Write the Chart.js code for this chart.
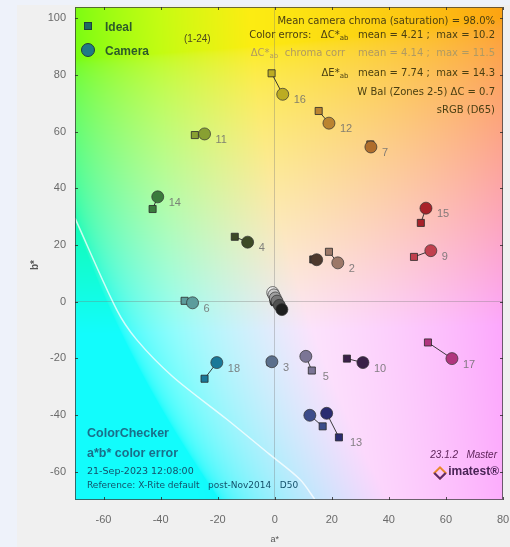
<!DOCTYPE html>
<html>
<head>
<meta charset="utf-8">
<script src="https://cdn.jsdelivr.net/npm/chart.js@4.4.1/dist/chart.umd.min.js"></script>
<style>
  html, body { margin: 0; padding: 0; background: #eef2fa; }
  #wrap { width: 510px; height: 547px; }
</style>
</head>
<body>
<div id="wrap"><canvas id="ccChart" width="510" height="547"></canvas></div>
<script>
// ColorChecker patches 1-24, a*/b* of ideal (reference) and camera values
const patchNums = [1, 2, 3, 4, 5, 6, 7, 8, 9, 10, 11, 12, 13, 14, 15, 16, 17, 18, 19, 20, 21, 22, 23, 24];
const idealA = [13.5, 19.0, -1.5, -14.0, 13.0, -31.6, 33.5, 16.8, 48.8, 25.3, -28.0, 15.4, 22.5, -42.8, 51.2, -1.1, 53.7, -24.6, -0.5, -0.4, -0.3, -0.2, 0.0, 0.1];
const idealB = [14.9, 17.6, -21.4, 22.9, -24.3, 0.3, 55.5, -44.0, 15.8, -20.1, 58.8, 67.3, -47.9, 32.7, 27.8, 80.6, -14.4, -27.2, 1.5, 0.8, 0.4, 0.2, 0.0, -0.2];
const cameraA = [14.7, 22.1, -1.0, -9.5, 10.9, -28.8, 33.7, 12.3, 54.7, 30.9, -24.6, 19.0, 18.2, -41.0, 53.0, 2.8, 62.1, -20.3, -0.7, -0.3, 0.2, 0.8, 1.6, 2.5];
const cameraB = [14.8, 13.7, -21.2, 21.0, -19.3, -0.4, 54.6, -40.1, 18.0, -21.5, 59.2, 63.0, -39.4, 37.0, 33.0, 73.2, -20.1, -21.5, 3.2, 2.4, 1.3, 0.2, -1.3, -2.8];
const labeledPatches = [2, 3, 4, 5, 6, 7, 9, 10, 11, 12, 13, 14, 15, 16, 17, 18];
const labelOnIdeal = [5, 13];
// gamut boundary curve (lower left)
const gamutA = [-70, -55.4, -48.4, -35.8, -16.8, -1.8, 8.8, 14];
const gamutB = [29.5, -2.8, -13.4, -26.4, -41.5, -53.9, -62.7, -69.7];
const xTicks = [-60, -40, -20, 0, 20, 40, 60, 80];
const yTicks = [-60, -40, -20, 0, 20, 40, 60, 80, 100];

const patchColors = ["#4e3a2e", "#9c7868", "#5b6f8c", "#3d4a26", "#7b7595", "#5c9c9c", "#b06e2c", "#3c4c8a",
  "#c0404e", "#3a2048", "#88a032", "#bb8430", "#2a2c70", "#3a7a3c", "#a8222a", "#bcac22", "#b0357e", "#1a7898",
  "#f2f2f2", "#c8c8c8", "#a0a0a0", "#787878", "#505050", "#1e1e1e"];

const idealPts = patchNums.map((n, i) => ({ x: idealA[i], y: idealB[i] }));
const cameraPts = patchNums.map((n, i) => ({ x: cameraA[i], y: cameraB[i] }));

const SANS = "'DejaVu Sans', Verdana, sans-serif";
const ARIAL = "'Liberation Sans', Arial, sans-serif";

function labToRgb(L, a, b) {
  const fy = (L + 16) / 116, fx = fy + a / 500, fz = fy - b / 200;
  const f = t => t > 6 / 29 ? t * t * t : 3 * (6 / 29) * (6 / 29) * (t - 4 / 29);
  const X = 0.9642 * f(fx), Y = f(fy), Z = 0.8249 * f(fz);
  const lin = [3.1339 * X - 1.6169 * Y - 0.4906 * Z, -0.9788 * X + 1.9161 * Y + 0.0335 * Z, 0.0719 * X - 0.2290 * Y + 1.4052 * Z];
  return lin.map(c => {
    c = Math.min(1, Math.max(0, c));
    c = c <= 0.0031308 ? 12.92 * c : 1.055 * Math.pow(c, 1 / 2.4) - 0.055;
    return Math.round((c * 0.92 + 0.07) * 255);
  });
}

// draw text pieces right-aligned at rx; pieces: [text, isSubscript]
function drawRich(ctx, pieces, rx, y, size) {
  const font = s => s + "px " + SANS;
  let total = 0;
  pieces.forEach(p => { ctx.font = font(p[1] ? size * 0.7 : size); total += ctx.measureText(p[0]).width; });
  let x = rx - total;
  ctx.textAlign = "left";
  pieces.forEach(p => {
    ctx.font = font(p[1] ? size * 0.7 : size);
    ctx.fillText(p[0], x, p[1] ? y + 3 : y);
    x += ctx.measureText(p[0]).width;
  });
}

let bgCanvas = null;
const bgPlugin = {
  id: "labBackground",
  beforeDraw(chart) {
    const { ctx, chartArea: ar, scales } = chart;
    ctx.save();
    ctx.fillStyle = "#f0f0f0";
    ctx.fillRect(17, 5, 493, 542);
    const w = Math.round(ar.right - ar.left), h = Math.round(ar.bottom - ar.top);
    if (!bgCanvas || bgCanvas.width !== w || bgCanvas.height !== h) {
      bgCanvas = document.createElement("canvas");
      bgCanvas.width = w; bgCanvas.height = h;
      const c2 = bgCanvas.getContext("2d");
      const img = c2.createImageData(w, h);
      for (let j = 0; j < h; j++) {
        const bv = scales.y.getValueForPixel(ar.top + j + 0.5);
        for (let i = 0; i < w; i++) {
          const av = scales.x.getValueForPixel(ar.left + i + 0.5);
          const rgb = labToRgb(93, av, bv);
          const k = (j * w + i) * 4;
          img.data[k] = rgb[0]; img.data[k + 1] = rgb[1]; img.data[k + 2] = rgb[2]; img.data[k + 3] = 255;
        }
      }
      c2.putImageData(img, 0, 0);
    }
    ctx.drawImage(bgCanvas, ar.left, ar.top);
    ctx.restore();
  }
};

const overlayPlugin = {
  id: "overlay",
  afterDatasetsDraw(chart) {
    const { ctx } = chart;
    const camMeta = chart.getDatasetMeta(0), idMeta = chart.getDatasetMeta(1);
    ctx.save();
    ctx.font = "11px " + ARIAL;
    ctx.fillStyle = "rgba(110,110,110,0.85)";
    ctx.textBaseline = "middle";
    labeledPatches.forEach(n => {
      const i = patchNums.indexOf(n);
      const el = labelOnIdeal.includes(n) ? idMeta.data[i] : camMeta.data[i];
      ctx.fillText(String(n), el.x + 11, el.y + 6);
    });
    ctx.restore();
  },
  afterDraw(chart) {
    const { ctx, chartArea: ar, scales } = chart;
    ctx.save();
    // border + inside ticks
    ctx.strokeStyle = "rgba(60,60,60,0.75)";
    ctx.lineWidth = 1;
    ctx.strokeRect(ar.left + 0.5, ar.top + 0.5, ar.right - ar.left - 1, ar.bottom - ar.top - 1);
    ctx.strokeStyle = "rgba(40,40,40,0.8)";
    ctx.beginPath();
    xTicks.forEach(v => {
      const px = Math.round(scales.x.getPixelForValue(v)) + 0.5;
      ctx.moveTo(px, ar.bottom); ctx.lineTo(px, ar.bottom - 3);
      ctx.moveTo(px, ar.top); ctx.lineTo(px, ar.top + 3);
    });
    yTicks.forEach(v => {
      const py = Math.round(scales.y.getPixelForValue(v)) + 0.5;
      ctx.moveTo(ar.left, py); ctx.lineTo(ar.left + 3, py);
      ctx.moveTo(ar.right, py); ctx.lineTo(ar.right - 3, py);
    });
    ctx.stroke();

    // axis titles
    ctx.fillStyle = "#555";
    ctx.font = "9px " + ARIAL;
    ctx.textAlign = "center";
    ctx.textBaseline = "middle";
    ctx.fillText("a*", scales.x.getPixelForValue(0), 540);
    ctx.save();
    ctx.translate(35, 265);
    ctx.rotate(-Math.PI / 2);
    ctx.font = "bold 10px " + ARIAL;
    ctx.fillText("b*", 0, 0);
    ctx.restore();

    // legend
    ctx.fillStyle = "#1d6a64";
    ctx.strokeStyle = "#1f3f3a";
    ctx.fillRect(84, 22, 8, 8);
    ctx.strokeRect(84.5, 22.5, 7, 7);
    ctx.beginPath();
    ctx.arc(88, 50, 6.5, 0, Math.PI * 2);
    ctx.fillStyle = "#1f7a86";
    ctx.fill();
    ctx.stroke();
    ctx.fillStyle = "#2c5a2a";
    ctx.font = "bold 12px " + ARIAL;
    ctx.textAlign = "left";
    ctx.fillText("Ideal", 105, 28);
    ctx.fillText("Camera", 105, 52);
    ctx.font = "10px " + ARIAL;
    ctx.fillStyle = "#4d4a1e";
    ctx.fillText("(1-24)", 184, 39);

    // info text top right
    const rx = 495, fs = 10;
    ctx.fillStyle = "#4a3f12";
    drawRich(ctx, [["Mean camera chroma (saturation) = 98.0%"]], rx, 21, fs);
    drawRich(ctx, [["Color errors:   \u0394C*"], ["ab", 1], ["   mean = 4.21 ;  max = 10.2"]], rx, 35, fs);
    ctx.fillStyle = "#b09a62";
    drawRich(ctx, [["\u0394C*"], ["ab", 1], ["  chroma corr    mean = 4.14 ;  max = 11.5"]], rx, 53, fs);
    ctx.fillStyle = "#4a3f12";
    drawRich(ctx, [["\u0394E*"], ["ab", 1], ["   mean = 7.74 ;  max = 14.3"]], rx, 73, fs);
    drawRich(ctx, [["W Bal (Zones 2-5) \u0394C = 0.7"]], rx, 92, fs);
    drawRich(ctx, [["sRGB (D65)"]], rx, 110, fs);

    // bottom-left caption
    ctx.textAlign = "left";
    ctx.fillStyle = "#1a6e8a";
    ctx.font = "bold 12.5px " + ARIAL;
    ctx.fillText("ColorChecker", 87, 434);
    ctx.fillText("a*b* color error", 87, 454);
    ctx.fillStyle = "#14506a";
    ctx.font = "9.5px " + SANS;
    ctx.fillText("21-Sep-2023 12:08:00", 87, 472);
    ctx.font = "9px " + SANS;
    ctx.fillText("Reference: X-Rite default   post-Nov2014   D50", 87, 486);

    // bottom-right version + logo
    ctx.textAlign = "right";
    ctx.fillStyle = "#5a1f55";
    ctx.font = "italic 10px " + ARIAL;
    ctx.fillText("23.1.2   Master", 497, 455);
    ctx.font = "bold 12px " + ARIAL;
    ctx.fillStyle = "#4a2456";
    ctx.fillText("imatest\u00ae", 499, 472);
    ctx.save();
    ctx.translate(440, 473);
    ctx.rotate(Math.PI / 4);
    ctx.lineWidth = 2;
    ctx.strokeStyle = "#e8892a";
    ctx.strokeRect(-4, -4, 8, 8);
    ctx.strokeStyle = "#5a2a70";
    ctx.beginPath(); ctx.moveTo(-4, 4); ctx.lineTo(4, 4); ctx.lineTo(4, -4); ctx.stroke();
    ctx.restore();
    ctx.restore();
  }
};

const connectorSets = patchNums.map((n, i) => ({
  type: "scatter",
  data: [idealPts[i], cameraPts[i]],
  showLine: true,
  borderColor: "rgba(40,40,40,0.9)",
  borderWidth: 1,
  pointRadius: 0,
  order: 3
}));

new Chart(document.getElementById("ccChart"), {
  type: "scatter",
  data: {
    datasets: [
      {
        label: "Camera",
        data: cameraPts,
        pointStyle: "circle",
        pointRadius: 6,
        pointHoverRadius: 6,
        backgroundColor: patchColors,
        borderColor: "rgba(50,50,50,0.7)",
        borderWidth: 1,
        order: 1
      },
      {
        label: "Ideal",
        data: idealPts,
        pointStyle: "rect",
        pointRadius: 5,
        pointHoverRadius: 5,
        backgroundColor: patchColors,
        borderColor: "rgba(40,40,40,0.8)",
        borderWidth: 1,
        order: 2
      },
      ...connectorSets,
      {
        label: "gamut",
        data: gamutA.map((a, i) => ({ x: a, y: gamutB[i] })),
        showLine: true,
        tension: 0.3,
        borderColor: "rgba(255,255,255,0.75)",
        borderWidth: 1.5,
        pointRadius: 0,
        order: 4
      }
    ]
  },
  options: {
    responsive: false,
    devicePixelRatio: 1,
    animation: false,
    events: [],
    layout: { padding: { left: 17, top: 7, right: 7, bottom: 0 } },
    plugins: { legend: { display: false }, tooltip: { enabled: false } },
    scales: {
      x: {
        type: "linear",
        min: -70,
        max: 80,
        afterBuildTicks: s => { s.ticks = xTicks.map(v => ({ value: v })); },
        afterFit: s => { s.height = 47; s.paddingLeft = 0; s.paddingRight = 0; },
        border: { display: false },
        grid: { drawTicks: false, color: c => c.tick && c.tick.value === 0 ? "rgba(120,120,120,0.35)" : "rgba(0,0,0,0)" },
        ticks: { padding: 13, color: "#6a6a6a", font: { size: 11, family: ARIAL } }
      },
      y: {
        type: "linear",
        min: -70,
        max: 104,
        afterBuildTicks: s => { s.ticks = yTicks.map(v => ({ value: v })); },
        afterFit: s => { s.width = 58; s.paddingTop = 0; s.paddingBottom = 0; },
        border: { display: false },
        grid: { drawTicks: false, color: c => c.tick && c.tick.value === 0 ? "rgba(120,120,120,0.35)" : "rgba(0,0,0,0)" },
        ticks: { padding: 9, color: "#6a6a6a", font: { size: 11, family: ARIAL } }
      }
    }
  },
  plugins: [bgPlugin, overlayPlugin]
});
</script>
</body>
</html>
